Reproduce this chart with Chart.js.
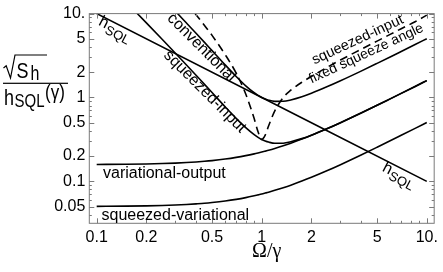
<!DOCTYPE html>
<html>
<head>
<meta charset="utf-8">
<script src="https://cdn.jsdelivr.net/npm/chart.js@4.4.0/dist/chart.umd.min.js"></script>
<style>
  html, body { margin: 0; padding: 0; background: #fff; }
</style>
</head>
<body>
<canvas id="chart" width="443" height="272"></canvas>
<script>
// frequency in units of gamma
const omega = [0.1, 0.15, 0.2, 0.25, 0.3, 0.35, 0.4, 0.45, 0.5, 0.6, 0.7, 0.8, 0.9, 0.95, 1,
  1.05, 1.1, 1.2, 1.35, 1.5, 1.75, 2, 2.5, 3, 4, 5, 6, 7, 8.5, 10];

// sqrt(S_h) / h_SQL(gamma)
const conventional = [null, null, null, 15.53, 10.66, 7.72, 5.83, 4.54, 3.62, 2.45, 1.78, 1.378, 1.138, 1.059, 1.0,
  0.958, 0.928, 0.899, 0.901, 0.935, 1.021, 1.124, 1.348, 1.582, 2.062, 2.55, 3.041, 3.536, 4.279, 5.025];
const squeezedInput = [null, 13.9, 7.754, 4.911, 3.369, 2.442, 1.843, 1.434, 1.145, 0.775, 0.563, 0.436, 0.36, 0.335, 0.316,
  0.303, 0.294, 0.284, 0.285, 0.296, 0.323, 0.355, 0.426, 0.5, 0.652, 0.806, 0.962, 1.118, 1.353, 1.589];
const fixedAngle = [null, null, null, null, null, 13.2, 9.7, 7.2, 5.5, 3.25, 1.95, 1.1, 0.56, 0.39, 0.316,
  0.355, 0.457, 0.691, 1.0, 1.22, 1.52, 1.78, 2.3, 2.8, 3.75, 4.7, 5.65, 6.6, 8.0, 9.6];
const variationalOutput = [0.1589, 0.1599, 0.1612, 0.163, 0.1651, 0.1675, 0.1703, 0.1734, 0.1768, 0.1844, 0.193, 0.2025, 0.2127, 0.2181, 0.2236,
  0.2293, 0.235, 0.247, 0.2656, 0.285, 0.3187, 0.3536, 0.4257, 0.5, 0.6519, 0.8062, 0.9617, 1.118, 1.353, 1.589];
const squeezedVariational = [0.0503, 0.0506, 0.051, 0.0515, 0.0522, 0.053, 0.0539, 0.0548, 0.0559, 0.0583, 0.061, 0.064, 0.0673, 0.069, 0.0707,
  0.0725, 0.0743, 0.0781, 0.084, 0.0901, 0.1008, 0.1118, 0.1346, 0.1581, 0.2062, 0.255, 0.3041, 0.3536, 0.4279, 0.5025];
const hsqlX = [0.1, 10];
const hsqlY = [10, 0.1];

const xTicks = [0.1, 0.2, 0.5, 1, 2, 5, 10];
const xTickLabels = ['0.1', '0.2', '0.5', '1', '2', '5', '10.'];
const xMinor = [0.3, 0.4, 0.6, 0.7, 0.8, 0.9, 3, 4, 6, 7, 8, 9];
const yTicks = [0.05, 0.1, 0.2, 0.5, 1, 2, 5, 10];
const yTickLabels = ['0.05', '0.1', '0.2', '0.5', '1', '2', '5', '10.'];
const yMinor = [0.04, 0.06, 0.07, 0.08, 0.09, 0.3, 0.4, 0.6, 0.7, 0.8, 0.9, 3, 4, 6, 7, 8, 9];

const SANS = '"Liberation Sans", Arial, sans-serif';
const SERIF = '"Liberation Serif", "Times New Roman", serif';

const pts = (xs, ys) => xs.map((x, i) => ({ x: x, y: ys[i] }));
const curve = (ys, dash) => ({
  data: pts(omega, ys),
  borderColor: '#000',
  borderWidth: 1.6,
  borderDash: dash || [],
  pointRadius: 0,
  cubicInterpolationMode: 'monotone',
  fill: false,
});

// text pieces along a baseline, optionally rotated / stretched vertically
function drawParts(ctx, x, y, angle, parts, sy) {
  sy = sy || 1;
  ctx.save();
  ctx.translate(x, y);
  ctx.rotate(angle * Math.PI / 180);
  ctx.scale(1, sy);
  ctx.textAlign = 'left';
  ctx.textBaseline = 'alphabetic';
  let cx = 0;
  parts.forEach(p => {
    ctx.font = p.size + 'px ' + (p.family || SANS);
    ctx.fillText(p.text, cx + (p.dx || 0), (p.dy || 0) / sy);
    cx += (p.dx || 0) + ctx.measureText(p.text).width;
  });
  ctx.restore();
}

const decorations = {
  id: 'decorations',
  afterDraw(chart) {
    const { ctx, chartArea: a, scales: { x, y } } = chart;
    ctx.save();

    // frame with inward ticks on all sides
    ctx.strokeStyle = '#7a7a7a';
    ctx.lineWidth = 1;
    ctx.strokeRect(a.left, a.top, a.right - a.left, a.bottom - a.top);
    ctx.beginPath();
    const xt = (v, len) => {
      const px = Math.round(x.getPixelForValue(v)) + 0.5;
      ctx.moveTo(px, a.bottom); ctx.lineTo(px, a.bottom - len);
      ctx.moveTo(px, a.top); ctx.lineTo(px, a.top + len);
    };
    const yt = (v, len) => {
      const py = Math.round(y.getPixelForValue(v)) + 0.5;
      ctx.moveTo(a.left, py); ctx.lineTo(a.left + len, py);
      ctx.moveTo(a.right, py); ctx.lineTo(a.right - len, py);
    };
    xTicks.forEach(v => xt(v, 5));
    xMinor.forEach(v => xt(v, 2.5));
    yTicks.forEach(v => yt(v, 5));
    yMinor.forEach(v => yt(v, 2.5));
    ctx.stroke();

    ctx.fillStyle = '#000';
    ctx.strokeStyle = '#000';

    // y axis title: sqrt(S_h) / h_SQL(gamma)
    ctx.lineWidth = 1.2;
    ctx.beginPath();
    ctx.moveTo(3.5, 68);
    ctx.lineTo(6.2, 65.8);
    ctx.lineTo(10.5, 78);
    ctx.lineTo(15, 55);
    ctx.lineTo(47, 55);
    ctx.stroke();
    drawParts(ctx, 16.5, 78, 0, [{ text: 'S', size: 18 }, { text: 'h', size: 16, dx: 2, dy: 2 }], 1.25);
    ctx.fillRect(3, 82.7, 65, 1.2);
    drawParts(ctx, 4, 105, 0, [
      { text: 'h', size: 18 },
      { text: 'SQL', size: 15, dx: 0.5, dy: 2 },
      { text: '(\u03b3)', size: 17, dx: 0.5, dy: -6 },
    ], 1.2);

    // x axis title
    ctx.font = '20px ' + SERIF;
    ctx.textAlign = 'center';
    ctx.fillText('\u03a9/\u03b3', 266.7, 256.6);

    // curve labels
    drawParts(ctx, 97.7, 24.4, 27.5, [{ text: 'h', size: 16 }, { text: 'SQL', size: 13, dx: 0.5, dy: 4.5 }]);
    drawParts(ctx, 381.5, 170.4, 27.5, [{ text: 'h', size: 16 }, { text: 'SQL', size: 13, dx: 0.5, dy: 4.5 }]);
    drawParts(ctx, 166.6, 19, 45, [{ text: 'conventional', size: 16 }]);
    drawParts(ctx, 163, 56, 45, [{ text: 'squeezed-input', size: 16 }]);
    drawParts(ctx, 314.5, 64.5, -25, [{ text: 'squeezed-input', size: 14.5 }]);
    drawParts(ctx, 311.5, 83.5, -25, [{ text: 'fixed squeeze angle', size: 14 }]);
    drawParts(ctx, 103, 178.4, 0, [{ text: 'variational-output', size: 16 }]);
    drawParts(ctx, 101.5, 219.5, 0, [{ text: 'squeezed-variational', size: 16 }]);

    ctx.restore();
  }
};

new Chart(document.getElementById('chart'), {
  type: 'line',
  data: {
    datasets: [
      { ...curve(hsqlY), data: pts(hsqlX, hsqlY) },
      curve(conventional),
      curve(squeezedInput),
      curve(fixedAngle, [8, 5]),
      curve(variationalOutput),
      curve(squeezedVariational),
    ]
  },
  options: {
    responsive: false,
    animation: false,
    devicePixelRatio: 1,
    layout: { padding: { top: 7.3, right: 5.3, left: 0, bottom: 0 } },
    plugins: { legend: { display: false }, tooltip: { enabled: false } },
    scales: {
      x: {
        type: 'logarithmic',
        min: 0.0902,
        max: 11.09,
        grid: { display: false, drawTicks: false },
        border: { display: false },
        afterBuildTicks: s => { s.ticks = xTicks.map(v => ({ value: v })); },
        afterFit: s => { s.height = 48.7; },
        ticks: {
          autoSkip: false,
          maxRotation: 0,
          padding: 5,
          color: '#000',
          font: { family: SANS, size: 16 },
          callback: (v, i) => xTickLabels[i],
        },
      },
      y: {
        type: 'logarithmic',
        min: 0.0316,
        max: 10,
        grid: { display: false, drawTicks: false },
        border: { display: false },
        afterBuildTicks: s => { s.ticks = yTicks.map(v => ({ value: v })); },
        afterFit: s => { s.width = 89.3; },
        ticks: {
          autoSkip: false,
          padding: 4,
          color: '#000',
          font: { family: SANS, size: 16 },
          callback: (v, i) => yTickLabels[i],
        },
      },
    },
  },
  plugins: [decorations],
});
</script>
</body>
</html>
